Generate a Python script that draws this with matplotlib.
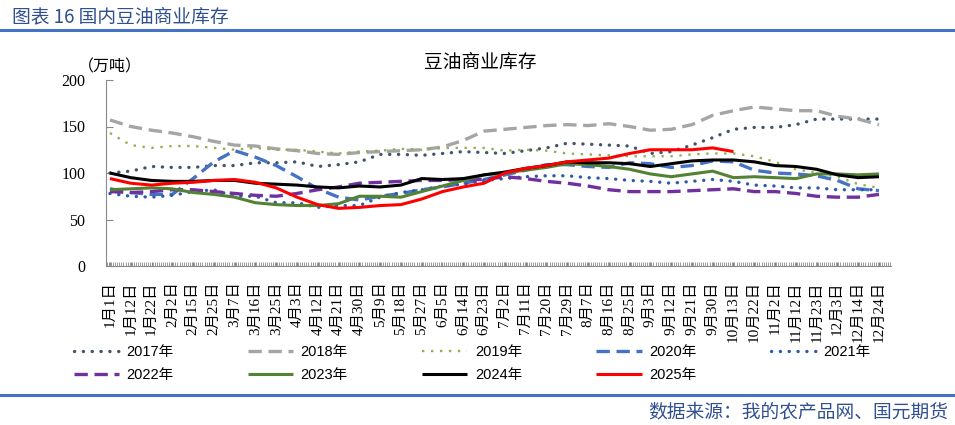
import matplotlib.pyplot as plt
import numpy as np

plt.rcParams['font.family'] = ['Liberation Sans', 'Noto Sans CJK SC']

# x categories (label slots)
dates = ['1月1日', '1月12日', '1月22日', '2月2日', '2月15日', '2月25日', '3月7日', '3月16日',
         '3月25日', '4月3日', '4月12日', '4月21日', '4月30日', '5月9日', '5月18日', '5月27日',
         '6月5日', '6月14日', '6月23日', '7月2日', '7月11日', '7月20日', '7月29日', '8月7日',
         '8月16日', '8月25日', '9月3日', '9月12日', '9月21日', '9月30日', '10月13日', '10月22日',
         '11月2日', '11月12日', '11月23日', '12月3日', '12月14日', '12月24日']

# commercial inventory, 10k tons at each label slot
y2017 = [100, 102, 107, 106, 106, 108, 108, 111, 111, 112, 107, 109, 112, 120, 120, 119, 121, 123, 122,
         121, 124, 127, 132, 131, 130, 129, 121, 123, 130, 138, 147, 149, 149, 152, 158, 158, 158, 158]
y2018 = [157, 150, 146, 143, 139, 134, 130, 129, 126, 124, 121, 120, 122, 123, 124, 125, 128, 135, 145,
         147, 149, 151, 152, 151, 153, 150, 146, 147, 152, 162, 167, 171, 169, 167, 167, 161, 158, 152]
y2019 = [143, 130, 127, 129, 129, 127, 125, 127, 125, 125, 123, 121, 123, 124, 126, 125, 127, 127, 127,
         124, 125, 124, 121, 120, 119, 118, 118, 118, 120, 121, 121, 118, 112, 104, 100, 96, 88, 84]
y2020 = [83, 79, 77, 77, 94, 112, 124, 117, 108, 96, 83, 74, 71, 75, 78, 82, 85, 89, 93,
         98, 103, 109, 109, 107, 106, 111, 110, 106, 108, 113, 112, 103, 100, 99, 97, 92, 83, 81]
y2021 = [78, 75, 74, 76, 80, 82, 75, 75, 68, 68, 63, 65, 65, 74, 79, 82, 86, 88, 92,
         94, 96, 97, 97, 95, 94, 92, 91, 89, 91, 93, 91, 87, 86, 84, 84, 82, 82, 82]
y2022 = [80, 79, 80, 82, 82, 80, 78, 76, 75, 78, 82, 85, 89, 90, 91, 92, 92, 93, 93,
         96, 94, 91, 89, 86, 82, 80, 80, 80, 81, 82, 83, 80, 80, 78, 75, 74, 74, 77]
y2023 = [82, 83, 84, 83, 79, 77, 74, 68, 66, 65, 65, 67, 75, 75, 74, 80, 86, 92, 98,
         100, 103, 106, 110, 109, 107, 104, 99, 96, 99, 102, 95, 96, 95, 94, 99, 99, 98, 99]
y2024 = [100, 95, 92, 91, 91, 92, 92, 89, 88, 87, 85, 84, 86, 85, 87, 94, 93, 94, 98,
         101, 105, 108, 112, 111, 111, 110, 107, 110, 113, 114, 114, 112, 108, 107, 104, 98, 95, 96]
y2025 = [94, 89, 87, 89, 90, 92, 93, 90, 84, 74, 66, 62, 63, 65, 66, 72, 80, 85, 89,
         100, 105, 108, 112, 114, 116, 121, 125, 125, 125, 127, 123]

series = [
    ('2017年', y2017, '#44546A', 2.4, (0, (0.05, 2.6)), 'round'),
    ('2018年', y2018, '#A5A5A5', 2.4, (0, (4, 2)), 'butt'),
    ('2019年', y2019, '#92B050', 1.7, (0, (1, 2.8)), 'butt'),
    ('2020年', y2020, '#4472C4', 2.4, (0, (4, 2)), 'butt'),
    ('2021年', y2021, '#2E5AA8', 2.4, (0, (0.05, 2.6)), 'round'),
    ('2022年', y2022, '#7030A0', 2.4, (0, (4, 2)), 'butt'),
    ('2023年', y2023, '#548235', 2.2, '-', 'butt'),
    ('2024年', y2024, '#000000', 2.2, '-', 'butt'),
    ('2025年', y2025, '#FF0000', 2.2, '-', 'butt'),
]

fig = plt.figure(figsize=(9.55, 4.25), dpi=100)
ax = fig.add_axes([106/955, 1 - 266/425, 785/955, 186/425])

handles = {}
for name, vals, col, lw, ls, cap in series:
    x = np.arange(len(vals))
    line, = ax.plot(x, vals, color=col, lw=lw, linestyle=ls, label=name,
                    dash_capstyle=cap, solid_capstyle='butt')
    handles[name] = line

ax.set_ylim(0, 200)
ax.set_yticks([0, 50, 100, 150, 200])
ax.set_xlim(-0.19, 37.58)
ax.set_xticks(np.arange(len(dates)))
ax.set_xticks(np.arange(-0.15, 37.6, 0.1), minor=True)
ax.set_xticklabels(dates, rotation=90, family=['Liberation Serif', 'Noto Sans CJK SC'],
                   fontsize=11, va='top', ha='center')
for lab in ax.get_yticklabels():
    lab.set_family('Liberation Serif')
    lab.set_fontsize(11.5)

for s in ['top', 'right']:
    ax.spines[s].set_visible(False)
for s in ['left', 'bottom']:
    ax.spines[s].set_color('#898989')
ax.tick_params(axis='y', direction='in', length=5, color='#898989', pad=15)
ax.tick_params(axis='x', which='both', direction='in', length=3, color='#898989', pad=11)

ax.text(0.0, 205, '（万吨）', fontsize=11.5, ha='center', va='bottom',
        family=['Noto Sans CJK SC'])
fig.text(0.503, 1 - 62/425, '豆油商业库存', fontsize=13.5, ha='center', va='center',
         family=['Noto Sans CJK SC'])

# legend filled row by row: 5 columns, 2 rows
order = ['2017年', '2022年', '2018年', '2023年', '2019年', '2024年', '2020年', '2025年', '2021年']
fig.legend([handles[k] for k in order], order, loc='upper left',
           bbox_to_anchor=(74/955, 1 - 345/425), ncol=5, frameon=False,
           fontsize=10.5, handlelength=3.1, handletextpad=0.5, columnspacing=5.1,
           labelspacing=0.62, borderpad=0, borderaxespad=0)

# header / footer
fig.text(12/955, 1 - 17/425, '图表 16 国内豆油商业库存', fontsize=13.5, color='#2F4F8F',
         ha='left', va='center', family=['Noto Sans CJK SC'])
fig.add_artist(plt.Line2D([0, 1], [1 - 30/425] * 2, color='#4472C4', lw=2.2))
fig.add_artist(plt.Line2D([0, 1], [1 - 395/425] * 2, color='#4472C4', lw=2.2))
fig.text(948/955, 1 - 412/425, '数据来源：我的农产品网、国元期货', fontsize=13.5, color='#2F4F8F',
         ha='right', va='center', family=['Noto Sans CJK SC'])

fig.savefig('out.png', dpi=100)
